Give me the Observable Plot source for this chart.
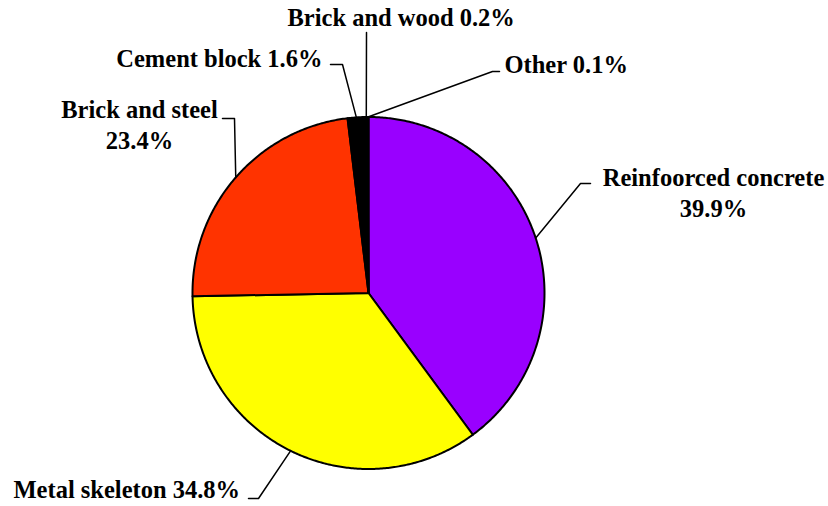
<!DOCTYPE html>
<html>
<head>
<meta charset="utf-8">
<script src="https://cdn.jsdelivr.net/npm/d3@7"></script>
<script src="https://cdn.jsdelivr.net/npm/@observablehq/plot@0.6"></script>
<style>
  html, body { margin: 0; padding: 0; background: #fff; }
  #chart { width: 828px; height: 506px; }
</style>
</head>
<body>
<div id="chart"></div>
<script>
// ---- data ----
const categories = ["Reinfoorced concrete", "Metal skeleton", "Brick and steel", "Cement block", "Brick and wood", "Other"];
const shares = [39.9, 34.8, 23.4, 1.6, 0.2, 0.1];
const sliceColors = ["#9900FF", "#FFFF00", "#FF3300", "#000000", "#000000", "#000000"];
const labelTexts = [
  "Reinfoorced concrete\n39.9%",
  "Metal skeleton 34.8%",
  "Brick and steel\n23.4%",
  "Cement block 1.6%",
  "Brick and wood 0.2%",
  "Other 0.1%"
];

// ---- layout (pixels) ----
const W = 828, H = 506;
const CX = 368, CY = 292.5, R = 176;
const labelLayout = [
  {elbow: [580, 183], end: [590, 183], text: [713, 216], anchor: "middle"},
  {elbow: [258, 498], end: [248, 498], text: [13, 497], anchor: "start"},
  {elbow: [234, 118], end: [222, 118], text: [139, 148], anchor: "middle"},
  {elbow: [342, 64], end: [330, 64], text: [322, 66], anchor: "end"},
  {elbow: [366, 32], end: [366, 32], text: [287, 25], anchor: "start"},
  {elbow: [492, 71], end: [499, 71], text: [504, 72], anchor: "start"}
];
const px2x = (px) => (px - CX) / R;
const py2y = (py) => (CY - py) / R;

// ---- geometry derived from data ----
const arcs = d3.pie().sort(null).value(d => d)(shares);
const slicePts = [];
arcs.forEach((a, i) => {
  slicePts.push({key: i, x: 0, y: 0, fill: sliceColors[i]});
  const step = Math.PI / 360;
  const n = Math.max(2, Math.ceil((a.endAngle - a.startAngle) / step));
  for (let k = 0; k <= n; k++) {
    const t = a.startAngle + (a.endAngle - a.startAngle) * k / n;
    slicePts.push({key: i, x: Math.sin(t), y: Math.cos(t), fill: sliceColors[i]});
  }
});

const leaderPts = [];
const labelData = [];
arcs.forEach((a, i) => {
  const m = (a.startAngle + a.endAngle) / 2;
  const L = labelLayout[i];
  leaderPts.push({key: i, x: Math.sin(m), y: Math.cos(m)});
  leaderPts.push({key: i, x: px2x(L.elbow[0]), y: py2y(L.elbow[1])});
  leaderPts.push({key: i, x: px2x(L.end[0]), y: py2y(L.end[1])});
  labelData.push({name: categories[i], text: labelTexts[i], x: px2x(L.text[0]), y: py2y(L.text[1]), anchor: L.anchor});
});

const textOpts = (anchor) => ({
  filter: d => d.anchor === anchor,
  x: "x", y: "y", text: "text",
  textAnchor: anchor,
  lineAnchor: "bottom",
  lineHeight: 1.25,
  fontFamily: "Liberation Serif",
  fontWeight: "bold",
  fontSize: 24.5,
  fill: "black"
});

const chart = Plot.plot({
  width: W, height: H,
  margin: 0,
  x: {domain: [px2x(0), px2x(W)], axis: null},
  y: {domain: [py2y(H), py2y(0)], axis: null},
  color: {type: "identity"},
  style: {background: "white", fontFamily: "Liberation Serif"},
  marks: [
    Plot.line(slicePts, {x: "x", y: "y", z: "key", fill: "fill", stroke: "black", strokeWidth: 2, strokeLinejoin: "round", curve: "linear-closed"}),
    Plot.line(leaderPts, {x: "x", y: "y", z: "key", stroke: "black", strokeWidth: 1.5}),
    Plot.text(labelData, textOpts("start")),
    Plot.text(labelData, textOpts("middle")),
    Plot.text(labelData, textOpts("end"))
  ]
});
document.getElementById("chart").appendChild(chart);
</script>
</body>
</html>
